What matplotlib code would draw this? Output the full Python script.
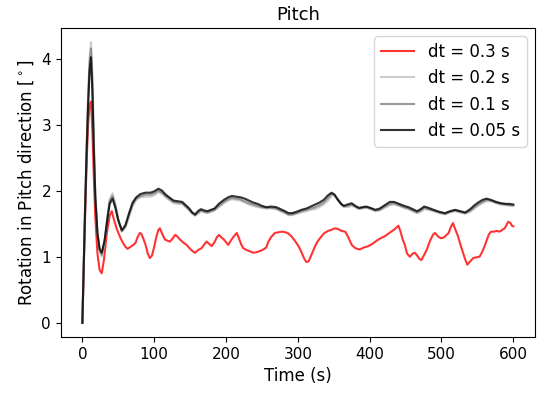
import matplotlib
matplotlib.use("Agg")
import matplotlib.pyplot as plt

# time grid shared by the three fine-step runs (s)
t_fine = [0, 2, 4, 6, 8, 10, 12, 14, 16, 18,
          21, 24, 27, 31, 35, 38, 42, 46, 50, 55,
          60, 65, 70, 75, 81, 88, 95, 100, 106, 111,
          116, 122, 127, 133, 139, 144, 148, 153, 157, 161,
          165, 170, 174, 179, 184, 190, 197, 203, 208, 214,
          220, 226, 232, 238, 244, 250, 256, 263, 270, 276,
          282, 287, 292, 298, 305, 312, 318, 324, 330, 336,
          342, 347, 351, 355, 360, 364, 369, 375, 380, 385,
          390, 395, 401, 408, 414, 421, 428, 434, 441, 448,
          454, 460, 466, 471, 476, 482, 489, 497, 505, 512,
          519, 526, 533, 540, 546, 551, 557, 563, 569, 576,
          583, 590, 595, 600]

pitch_005 = [0.00, 0.90, 1.80, 2.60, 3.30, 3.80, 4.02, 3.50, 2.60, 1.90,
             1.35, 1.12, 1.06, 1.25, 1.58, 1.80, 1.88, 1.74, 1.55, 1.40,
             1.48, 1.66, 1.82, 1.90, 1.95, 1.97, 1.97, 1.99, 2.03, 2.00,
             1.94, 1.89, 1.85, 1.84, 1.83, 1.78, 1.74, 1.67, 1.64, 1.69,
             1.72, 1.70, 1.69, 1.71, 1.73, 1.80, 1.86, 1.90, 1.92, 1.91,
             1.90, 1.88, 1.85, 1.82, 1.80, 1.77, 1.75, 1.76, 1.75, 1.72,
             1.69, 1.66, 1.66, 1.68, 1.71, 1.73, 1.76, 1.79, 1.82, 1.86,
             1.93, 1.97, 1.94, 1.87, 1.80, 1.77, 1.79, 1.81, 1.77, 1.74,
             1.75, 1.76, 1.74, 1.71, 1.73, 1.78, 1.83, 1.83, 1.80, 1.77,
             1.75, 1.72, 1.69, 1.72, 1.76, 1.74, 1.71, 1.68, 1.66, 1.69,
             1.71, 1.69, 1.67, 1.72, 1.78, 1.82, 1.86, 1.88, 1.86, 1.83,
             1.81, 1.80, 1.80, 1.79]

pitch_01 = [0.00, 0.92, 1.83, 2.65, 3.38, 3.92, 4.15, 3.62, 2.68, 1.93,
            1.36, 1.10, 1.03, 1.24, 1.60, 1.84, 1.92, 1.77, 1.56, 1.39,
            1.46, 1.63, 1.79, 1.88, 1.92, 1.94, 1.94, 1.96, 2.00, 1.97,
            1.92, 1.87, 1.83, 1.82, 1.81, 1.76, 1.72, 1.66, 1.63, 1.67,
            1.70, 1.68, 1.67, 1.69, 1.71, 1.77, 1.83, 1.87, 1.89, 1.88,
            1.87, 1.84, 1.81, 1.79, 1.77, 1.75, 1.74, 1.74, 1.73, 1.70,
            1.67, 1.64, 1.64, 1.66, 1.69, 1.71, 1.73, 1.75, 1.78, 1.82,
            1.89, 1.95, 1.94, 1.88, 1.81, 1.76, 1.77, 1.79, 1.76, 1.73,
            1.74, 1.75, 1.73, 1.70, 1.71, 1.76, 1.80, 1.81, 1.78, 1.75,
            1.73, 1.70, 1.67, 1.70, 1.74, 1.72, 1.70, 1.67, 1.65, 1.68,
            1.70, 1.68, 1.66, 1.70, 1.75, 1.79, 1.83, 1.86, 1.85, 1.82,
            1.80, 1.79, 1.78, 1.78]

pitch_02 = [0.00, 0.93, 1.85, 2.68, 3.42, 4.00, 4.25, 3.72, 2.75, 1.97,
            1.38, 1.09, 1.00, 1.23, 1.62, 1.87, 1.96, 1.80, 1.57, 1.38,
            1.44, 1.61, 1.77, 1.86, 1.90, 1.91, 1.91, 1.93, 1.98, 1.95,
            1.90, 1.85, 1.81, 1.80, 1.80, 1.75, 1.71, 1.65, 1.62, 1.65,
            1.69, 1.67, 1.66, 1.68, 1.70, 1.75, 1.81, 1.85, 1.87, 1.86,
            1.85, 1.82, 1.79, 1.77, 1.75, 1.74, 1.73, 1.73, 1.72, 1.69,
            1.66, 1.63, 1.63, 1.65, 1.67, 1.69, 1.71, 1.72, 1.75, 1.79,
            1.85, 1.92, 1.93, 1.88, 1.81, 1.76, 1.75, 1.77, 1.75, 1.72,
            1.73, 1.74, 1.72, 1.69, 1.70, 1.74, 1.78, 1.79, 1.77, 1.74,
            1.72, 1.69, 1.66, 1.68, 1.72, 1.71, 1.69, 1.66, 1.64, 1.67,
            1.69, 1.67, 1.65, 1.68, 1.73, 1.77, 1.81, 1.84, 1.84, 1.81,
            1.79, 1.78, 1.77, 1.77]

# coarse step run (dt = 0.3 s)
t_coarse = [0, 2, 4, 6, 8, 10, 12, 14, 16, 18,
            21, 24, 27, 30, 34, 38, 41, 44, 48, 52,
            56, 60, 63, 67, 71, 74, 77, 80, 82, 85,
            88, 91, 94, 97, 100, 103, 106, 108, 111, 115,
            119, 122, 126, 129, 132, 136, 140, 145, 150, 154,
            157, 161, 166, 170, 173, 177, 180, 184, 187, 190,
            193, 197, 200, 203, 207, 211, 215, 218, 221, 224,
            229, 234, 238, 243, 248, 252, 256, 259, 263, 268,
            273, 278, 283, 287, 291, 296, 301, 305, 309, 312,
            315, 319, 324, 328, 333, 337, 342, 347, 352, 356,
            361, 366, 370, 375, 380, 386, 392, 398, 403, 408,
            412, 417, 421, 426, 430, 434, 438, 440, 443, 446,
            449, 452, 456, 460, 463, 466, 469, 472, 476, 480,
            484, 488, 491, 495, 499, 503, 507, 510, 513, 516,
            519, 523, 527, 530, 533, 536, 540, 544, 548, 553,
            557, 560, 563, 566, 569, 573, 577, 581, 585, 588,
            591, 593, 596, 598, 600]

pitch_03 = [0.00, 0.85, 1.70, 2.45, 3.00, 3.30, 3.35, 2.90, 2.20, 1.60,
            1.05, 0.80, 0.75, 0.95, 1.35, 1.62, 1.69, 1.56, 1.42, 1.31,
            1.22, 1.15, 1.12, 1.15, 1.18, 1.21, 1.30, 1.36, 1.35, 1.27,
            1.18, 1.05, 0.98, 1.02, 1.15, 1.30, 1.41, 1.43, 1.35, 1.26,
            1.24, 1.23, 1.28, 1.33, 1.31, 1.26, 1.22, 1.18, 1.12, 1.08,
            1.06, 1.10, 1.13, 1.19, 1.23, 1.19, 1.16, 1.22, 1.29, 1.33,
            1.30, 1.26, 1.22, 1.18, 1.25, 1.31, 1.36, 1.28, 1.19, 1.13,
            1.10, 1.08, 1.06, 1.07, 1.09, 1.11, 1.14, 1.23, 1.30, 1.36,
            1.37, 1.38, 1.37, 1.35, 1.31, 1.24, 1.16, 1.07, 0.97, 0.92,
            0.93, 1.03, 1.16, 1.24, 1.31, 1.36, 1.39, 1.41, 1.43, 1.42,
            1.39, 1.38, 1.30, 1.18, 1.13, 1.11, 1.14, 1.16, 1.19, 1.23,
            1.26, 1.29, 1.31, 1.35, 1.38, 1.41, 1.45, 1.47, 1.38, 1.26,
            1.18, 1.05, 1.00, 1.05, 1.06, 1.02, 0.97, 0.95, 1.03, 1.12,
            1.24, 1.33, 1.36, 1.31, 1.28, 1.29, 1.33, 1.36, 1.45, 1.51,
            1.42, 1.31, 1.16, 1.06, 0.96, 0.88, 0.93, 0.98, 0.99, 1.00,
            1.08, 1.16, 1.25, 1.34, 1.38, 1.38, 1.39, 1.38, 1.41, 1.43,
            1.49, 1.53, 1.51, 1.47, 1.46]

fig, ax = plt.subplots(figsize=(5.43, 3.94), dpi=100)
ax.plot(t_coarse, pitch_03, color="red", alpha=0.8, label="dt = 0.3 s")
ax.plot(t_fine, pitch_02, color="silver", alpha=0.8, label="dt = 0.2 s")
ax.plot(t_fine, pitch_01, color="gray", alpha=0.8, label="dt = 0.1 s")
ax.plot(t_fine, pitch_005, color="black", alpha=0.8, label="dt = 0.05 s")

ax.set_title("Pitch", fontsize=13)
ax.set_xlabel("Time (s)", fontsize=12)
ax.set_ylabel(r"Rotation in Pitch direction [$^\circ$]", fontsize=12)
ax.tick_params(labelsize=11)
ax.legend(loc="upper right", fontsize=12)

fig.subplots_adjust(left=0.112, right=0.985, top=0.929, bottom=0.145)
fig.savefig("out.png", dpi=100)
